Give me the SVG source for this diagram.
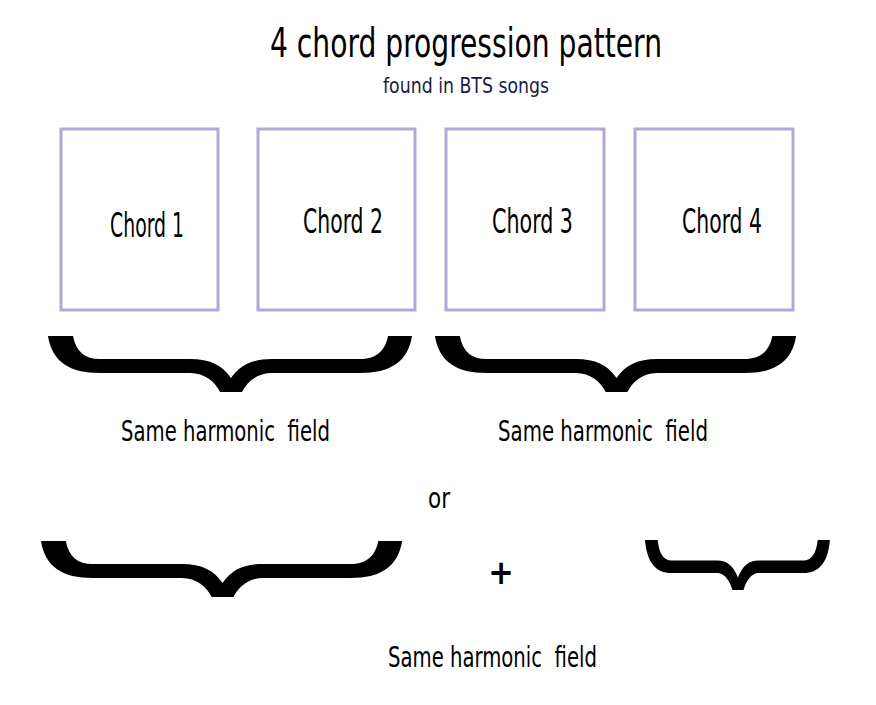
<svg xmlns="http://www.w3.org/2000/svg" xmlns:xlink="http://www.w3.org/1999/xlink" width="876" height="705" viewBox="0 0 876 705">
<style>
.t{font-family:"Liberation Sans Narrow","DejaVu Sans Condensed","Liberation Sans",sans-serif;fill:#000;white-space:pre;}
.box{fill:#fff;stroke:#b4a7d6;stroke-width:3;}
.brace{fill:#000;}
</style>
<defs>
<path id="brace" d="M0,0 C4,26 22,37 52,37 L142,37 C157,37 167,46 172,56 L194,56 C199,46 209,37 224,37 L312,37 C342,37 360,26 364,0 L340,0 C337,16 327,23 312,23 L224,23 C204,23 192,29 183,42 C174,29 162,23 142,23 L52,23 C37,23 28,16 25,0 Z"/>
</defs>
<rect width="876" height="705" fill="#fff"/>
<g id="title">
<text class="t" x="270" y="57" font-size="40" textLength="392" lengthAdjust="spacingAndGlyphs">4 chord progression pattern</text>
<text class="t" x="383" y="93" font-size="21" style="fill:#1a1a4a" textLength="166" lengthAdjust="spacingAndGlyphs">found in BTS songs</text>
</g>
<g id="chord1"><rect class="box" x="61" y="129" width="157" height="181"/><text class="t" x="110" y="237" font-size="33" textLength="74" lengthAdjust="spacingAndGlyphs">Chord 1</text></g>
<g id="chord2"><rect class="box" x="258" y="129" width="157" height="181"/><text class="t" x="303" y="233" font-size="33" textLength="80" lengthAdjust="spacingAndGlyphs">Chord 2</text></g>
<g id="chord3"><rect class="box" x="446" y="129" width="158" height="181"/><text class="t" x="492" y="233" font-size="33" textLength="81" lengthAdjust="spacingAndGlyphs">Chord 3</text></g>
<g id="chord4"><rect class="box" x="635" y="129" width="158" height="181"/><text class="t" x="682" y="233" font-size="33" textLength="80" lengthAdjust="spacingAndGlyphs">Chord 4</text></g>
<g id="connectors">
<use xlink:href="#brace" href="#brace" class="brace" transform="translate(48,336)"/>
<use xlink:href="#brace" href="#brace" class="brace" transform="translate(435,336) scale(0.992,1)"/>
<use xlink:href="#brace" href="#brace" class="brace" transform="translate(41,541) scale(0.992,1)"/>
<use xlink:href="#brace" href="#brace" class="brace" transform="translate(645,540) scale(0.508,0.893)"/>
</g>
<g id="labels">
<text class="t" x="121" y="441" font-size="29" textLength="209" lengthAdjust="spacingAndGlyphs" xml:space="preserve">Same harmonic  field</text>
<text class="t" x="498" y="441" font-size="29" textLength="210" lengthAdjust="spacingAndGlyphs" xml:space="preserve">Same harmonic  field</text>
<text class="t" x="428" y="508" font-size="29" textLength="22" lengthAdjust="spacingAndGlyphs">or</text>
<text class="t" x="501" y="584" font-size="34" font-weight="bold" text-anchor="middle">+</text>
<text class="t" x="388" y="667" font-size="29" textLength="209" lengthAdjust="spacingAndGlyphs" xml:space="preserve">Same harmonic  field</text>
</g>
</svg>
